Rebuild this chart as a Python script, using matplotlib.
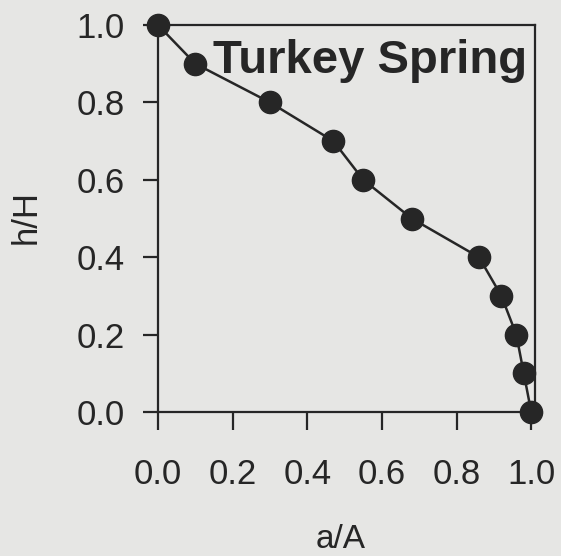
import matplotlib
matplotlib.use("Agg")
import matplotlib.pyplot as plt

a_over_A = [0.0, 0.10, 0.30, 0.47, 0.55, 0.68, 0.86, 0.92, 0.96, 0.98, 1.0]
h_over_H = [1.0, 0.90, 0.80, 0.70, 0.60, 0.50, 0.40, 0.30, 0.20, 0.10, 0.0]
ticks = [0.0, 0.2, 0.4, 0.6, 0.8, 1.0]
tick_labels = ["0.0", "0.2", "0.4", "0.6", "0.8", "1.0"]
title = "Turkey Spring"

plt.rcParams['font.family'] = ['Liberation Sans', 'DejaVu Sans']
bg = "#e6e6e4"
ink = "#262626"

fig = plt.figure(figsize=(5.61, 5.56), dpi=100, facecolor=bg)
ax = fig.add_axes([0.2816, 0.259, 0.6720, 0.696])
ax.set_facecolor(bg)
ax.plot(a_over_A, h_over_H, '-o', color=ink, lw=1.8, markersize=16,
        markerfacecolor=ink, markeredgecolor=ink, clip_on=False, zorder=3)
ax.set_xlim(0, 1.01)
ax.set_ylim(0, 1.0)
ax.set_xticks(ticks)
ax.set_xticklabels(tick_labels)
ax.set_yticks(ticks)
ax.set_yticklabels(tick_labels)
for s in ax.spines.values():
    s.set_color(ink)
    s.set_linewidth(1.6)
ax.tick_params(axis='x', direction='out', length=13, width=1.6, color=ink,
               labelsize=25, labelcolor=ink, pad=20)
ax.tick_params(axis='y', direction='out', length=11, width=1.6, color=ink,
               labelsize=25, labelcolor=ink, pad=13)
ax.set_xlabel("a/A", fontsize=24, color=ink)
ax.xaxis.set_label_coords(0.485, -0.290)
ax.set_ylabel("h/H", fontsize=25, color=ink)
ax.yaxis.set_label_coords(-0.305, 0.505)
ax.text(0.979, 0.876, title, transform=ax.transAxes, ha='right', va='baseline',
        fontsize=34, fontweight='bold', color=ink)
fig.savefig("out.png", dpi=100, facecolor=bg)
